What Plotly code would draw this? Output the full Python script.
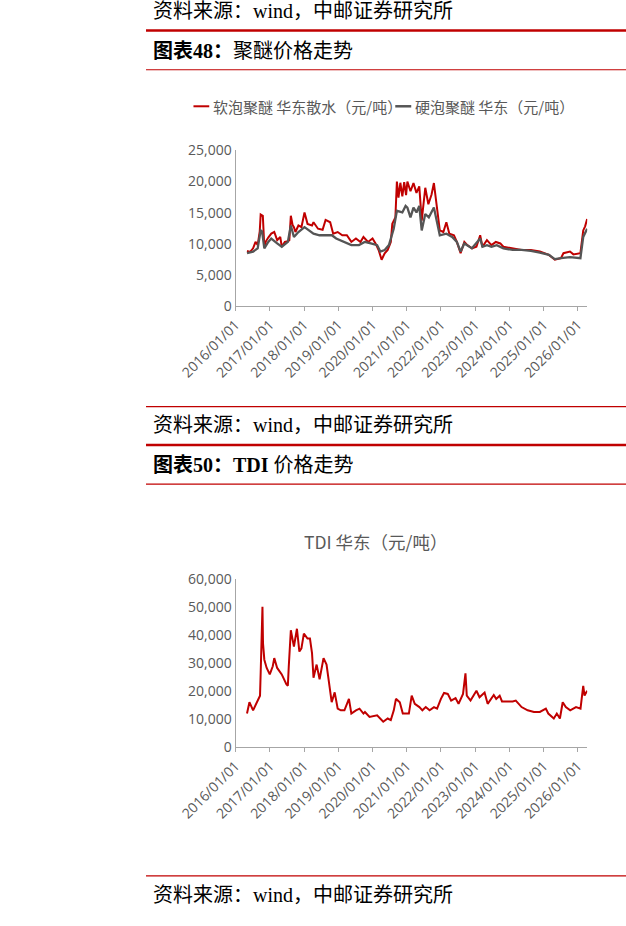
import plotly.graph_objects as go

# ---------------- data ----------------
soft_dates = [
    "2016-05-02", "2016-06-05", "2016-07-06", "2016-08-01", "2016-08-24", "2016-09-15", "2016-09-25", "2016-10-10", "2016-10-18", "2016-11-03", "2016-11-20", "2016-12-15",
    "2017-01-16", "2017-02-17", "2017-03-20", "2017-04-22", "2017-05-08", "2017-06-10", "2017-07-12", "2017-07-28", "2017-08-13", "2017-09-01", "2017-09-15", "2017-10-01", "2017-11-02", "2017-12-04",
    "2018-01-06", "2018-02-07", "2018-03-27", "2018-04-12", "2018-05-30", "2018-07-18", "2018-08-19", "2018-10-07", "2018-11-08", "2018-12-26",
    "2019-02-13", "2019-04-03", "2019-05-21", "2019-07-09", "2019-08-26", "2019-09-27", "2019-11-15",
    "2020-01-02", "2020-02-03", "2020-03-07", "2020-04-08", "2020-05-11", "2020-06-12", "2020-07-15", "2020-07-31", "2020-09-02", "2020-09-18", "2020-10-05", "2020-10-25", "2020-11-15", "2020-12-05", "2020-12-25",
    "2021-01-08", "2021-02-10", "2021-03-14", "2021-04-15", "2021-05-15", "2021-06-10", "2021-07-18", "2021-08-20", "2021-09-23", "2021-10-18", "2021-11-24", "2021-12-20",
    "2022-01-27", "2022-02-28", "2022-04-01", "2022-05-20", "2022-06-20", "2022-07-30", "2022-09-08", "2022-10-10", "2022-11-28",
    "2023-01-15", "2023-02-24", "2023-03-20", "2023-05-07", "2023-06-24", "2023-08-10", "2023-09-27", "2023-10-30",
    "2024-02-06", "2024-05-11", "2024-08-18", "2024-11-22",
    "2025-02-27", "2025-05-01", "2025-07-05", "2025-08-01", "2025-10-10", "2025-11-15",
    "2026-01-29", "2026-02-28", "2026-03-20", "2026-04-11",
]
soft_values = [
    8850, 8700, 9270, 10300, 9800, 12000, 14700, 14600, 14500, 9530, 10400, 11000,
    11630, 11890, 10580, 11100, 9530, 10300, 10400, 10580, 14510, 13000, 12670, 11890, 12940, 12670,
    15030, 13200, 12940, 13460, 12420, 12250, 13830, 13460, 11630, 11890,
    11370, 11370, 10300, 10850, 10300, 11100, 10300,
    10850, 10060, 9010, 7440, 8490, 9010, 10300, 13200, 14250, 20000, 17400, 19800, 17600, 19900, 17800,
    20000, 18440, 19750, 18170, 19220, 13720, 19000, 16350, 17920, 19750, 15300, 12150,
    11890, 13460, 11630, 11370, 10300, 8490, 10300, 9790, 9270,
    9530, 11370, 9530, 10580, 9790, 10300, 10060, 9530,
    9270, 9010, 9010, 8750,
    8220, 7440, 7700, 8490, 8750, 8300,
    8490, 12150, 12800, 13990,
]

hard_dates = [
    "2016-05-02", "2016-07-06", "2016-08-24", "2016-09-25", "2016-10-10", "2016-11-03", "2016-12-15",
    "2017-01-16", "2017-03-20", "2017-05-08", "2017-07-12", "2017-08-13", "2017-09-15", "2017-11-02",
    "2018-01-06", "2018-02-20", "2018-04-12", "2018-06-15", "2018-08-19", "2018-10-25", "2018-12-10",
    "2019-03-15", "2019-05-21", "2019-08-10", "2019-10-10", "2019-12-15",
    "2020-02-20", "2020-03-25", "2020-05-11", "2020-06-25", "2020-08-15", "2020-09-18", "2020-11-15", "2020-12-20",
    "2021-01-08", "2021-02-10", "2021-03-14", "2021-04-15", "2021-05-15", "2021-06-10", "2021-07-18", "2021-08-25", "2021-10-18", "2021-11-24", "2021-12-20",
    "2022-02-28", "2022-05-01", "2022-06-20", "2022-07-30", "2022-09-08", "2022-11-28",
    "2023-02-24", "2023-03-20", "2023-05-07", "2023-06-24", "2023-08-20", "2023-10-30",
    "2024-02-06", "2024-05-11", "2024-08-18", "2024-11-22",
    "2025-02-27", "2025-05-01", "2025-07-05", "2025-10-10",
    "2026-01-29", "2026-02-28", "2026-04-11",
]
hard_values = [
    8490, 8750, 9270, 12150, 12000, 9270, 10300,
    10850, 10060, 9530, 10300, 12940, 11100, 11890,
    12670, 12150, 11630, 11370, 11370, 11370, 10850,
    10300, 9790, 9790, 10300, 10060,
    9790, 8750, 9010, 9790, 12420, 15300, 15030, 16080,
    15820, 14250, 15820, 15030, 16080, 12150, 14780, 14250, 15820, 13200, 11370,
    11630, 11100, 10300, 8750, 10060, 9270,
    10850, 9530, 9790, 9530, 9790, 9270,
    9010, 9010, 8850, 8600,
    8220, 7540, 7700, 7860,
    7700, 11100, 12420,
]

tdi_dates = [
    "2016-05-02", "2016-05-28", "2016-07-06", "2016-08-01", "2016-08-24", "2016-09-18", "2016-09-25", "2016-10-05", "2016-10-14", "2016-10-20", "2016-11-03", "2016-11-28", "2016-12-31",
    "2017-02-01", "2017-02-17", "2017-03-20", "2017-05-08", "2017-06-26", "2017-07-12", "2017-07-22", "2017-08-13", "2017-09-15", "2017-10-17", "2017-11-12", "2017-12-04", "2017-12-30",
    "2018-02-07", "2018-03-05", "2018-03-27", "2018-04-12", "2018-05-15", "2018-06-16", "2018-07-28", "2018-08-29", "2018-09-21", "2018-10-23", "2018-11-24", "2018-12-26",
    "2019-01-28", "2019-03-08", "2019-04-25", "2019-05-21", "2019-07-09", "2019-08-16", "2019-09-27", "2019-10-13", "2019-12-01",
    "2020-02-20", "2020-04-25", "2020-06-12", "2020-07-15", "2020-08-16", "2020-09-08", "2020-10-19", "2020-11-20",
    "2021-01-24", "2021-02-23", "2021-03-28", "2021-05-16", "2021-06-17", "2021-07-23", "2021-09-02", "2021-10-19", "2021-11-21",
    "2022-01-01", "2022-02-03", "2022-03-15", "2022-04-20", "2022-06-06", "2022-07-08", "2022-08-25", "2022-09-20", "2022-10-04", "2022-11-13",
    "2023-01-15", "2023-02-17", "2023-04-12", "2023-05-15", "2023-07-19", "2023-08-14", "2023-09-20", "2023-10-15",
    "2024-02-06", "2024-03-10", "2024-05-11", "2024-07-15", "2024-09-20", "2024-11-22",
    "2025-01-25", "2025-02-20", "2025-04-20", "2025-05-22", "2025-06-24", "2025-07-24", "2025-08-26", "2025-10-12", "2025-12-13",
    "2026-01-30", "2026-02-28", "2026-03-14", "2026-04-11",
]
tdi_values = [
    12000, 16040, 13150, 14890, 16640, 18380, 26500, 43950, 50000, 36970, 31180, 28250, 25950,
    28830, 31740, 28250, 25950, 22460, 21880, 28830, 41650, 35820, 42200, 34080, 35240, 40460,
    38720, 38720, 33490, 24770, 29440, 24210, 31740, 29440, 23610, 16040, 19530, 13740,
    13150, 13150, 17230, 12000, 13150, 13740, 12000, 12570, 10810,
    11390, 9070, 10230, 9650, 13150, 17230, 16040, 12000,
    12000, 18380, 15470, 14310, 13150, 14310, 13150, 14310, 13740,
    17230, 19320, 19000, 16640, 17500, 15470, 19000, 26300, 18380, 16640,
    20130, 17800, 19500, 15470, 18600, 17230, 18380, 16300,
    16300, 16640, 14310, 13150, 12570, 12570,
    13740, 12000, 10230, 12000, 10230, 16040, 14310, 13150, 14310,
    13740, 21880, 18380, 20130,
]

soft_name = "软泡聚醚 华东散水（元/吨）"
hard_name = "硬泡聚醚 华东（元/吨）"
tdi_name = "TDI 华东（元/吨）"
source_text = "资料来源：wind，中邮证券研究所"
header1 = "<b>图表48：</b>聚醚价格走势"
header2 = "<b>图表50：TDI</b> 价格走势"

# ---------------- page geometry (pixels) ----------------
W, H = 626, 926


def px(x):
    return x / W


def py(y):
    return 1 - y / H


RED = "#c00000"
GREY_LINE = "#555555"
AXIS = "#a6a6a6"
TXT = "#595959"
CJK = "Noto Sans CJK SC"
SERIF = "Liberation Serif, Noto Sans CJK SC"

fig = go.Figure()
fig.add_trace(go.Scatter(x=soft_dates, y=soft_values, mode="lines", name=soft_name,
                         line=dict(color=RED, width=2), xaxis="x", yaxis="y"))
fig.add_trace(go.Scatter(x=hard_dates, y=hard_values, mode="lines", name=hard_name,
                         line=dict(color=GREY_LINE, width=2.3), xaxis="x", yaxis="y"))
fig.add_trace(go.Scatter(x=tdi_dates, y=tdi_values, mode="lines", name=tdi_name,
                         line=dict(color=RED, width=2), xaxis="x2", yaxis="y2"))

tickfont = dict(family="Open Sans", size=14, color=TXT)
xcommon = dict(type="date", range=["2016-01-01", "2026-04-12"], tick0="2016-01-01", dtick="M12",
               tickformat="%Y/%m/%d", tickangle=-45, ticks="outside", ticklen=4, tickcolor=AXIS,
               showline=True, linecolor=AXIS, linewidth=1, showgrid=False, zeroline=False,
               tickfont=tickfont)
ycommon = dict(showline=True, linecolor=AXIS, linewidth=1, showgrid=False, zeroline=False,
               ticks="", tickformat=",", tickfont=tickfont)

xdom = [px(195.7), px(583.3)]
fig.update_layout(
    width=W, height=H, margin=dict(l=0, r=0, t=0, b=0),
    paper_bgcolor="white", plot_bgcolor="white", showlegend=False,
    xaxis=dict(domain=xdom, anchor="y", **xcommon),
    yaxis=dict(domain=[py(302.3), py(143.3)], anchor="x", range=[0, 25000], dtick=5000, **ycommon),
    xaxis2=dict(domain=xdom, anchor="y2", **xcommon),
    yaxis2=dict(domain=[py(752.7), py(580.7)], anchor="x2", range=[0, 60000], dtick=10000, **ycommon),
)

shapes = []


def hline(y, width, color=RED):
    shapes.append(dict(type="line", xref="paper", yref="paper", x0=px(97), x1=1.0,
                       y0=py(y), y1=py(y), line=dict(color=color, width=width)))


hline(21, 2.5)
hline(61, 1.2)
hline(405, 1.2)
hline(444, 2.5)
hline(484, 1.2)
hline(884, 1.2)

# legend swatches
shapes.append(dict(type="line", xref="paper", yref="paper", x0=px(149.3), x1=px(166.7),
                   y0=py(98.3), y1=py(98.3), line=dict(color=RED, width=2)))
shapes.append(dict(type="line", xref="paper", yref="paper", x0=px(371.7), x1=px(389.3),
                   y0=py(98.3), y1=py(98.3), line=dict(color=GREY_LINE, width=2.5)))

anns = []


def text(x, y, s, size, color, family, xanchor="left"):
    anns.append(dict(x=px(x), y=py(y), xref="paper", yref="paper", text=s, showarrow=False,
                     xanchor=xanchor, yanchor="middle", font=dict(family=family, size=size, color=color)))


text(103, 1, source_text, 20, "black", SERIF)
text(103, 42, header1, 20, "black", SERIF)
text(168.5, 98.3, soft_name, 15, TXT, CJK)
text(391, 98.3, hard_name, 15, TXT, CJK)
text(103, 424, source_text, 20, "black", SERIF)
text(103, 465, header2, 20, "black", SERIF)
text(350, 543, tdi_name, 17.5, TXT, CJK, xanchor="center")
text(103, 904, source_text, 20, "black", SERIF)

fig.update_layout(shapes=shapes, annotations=anns)
fig.write_html("out.html", post_script="document.body.style.margin='0';",
               config={"displayModeBar": False})
